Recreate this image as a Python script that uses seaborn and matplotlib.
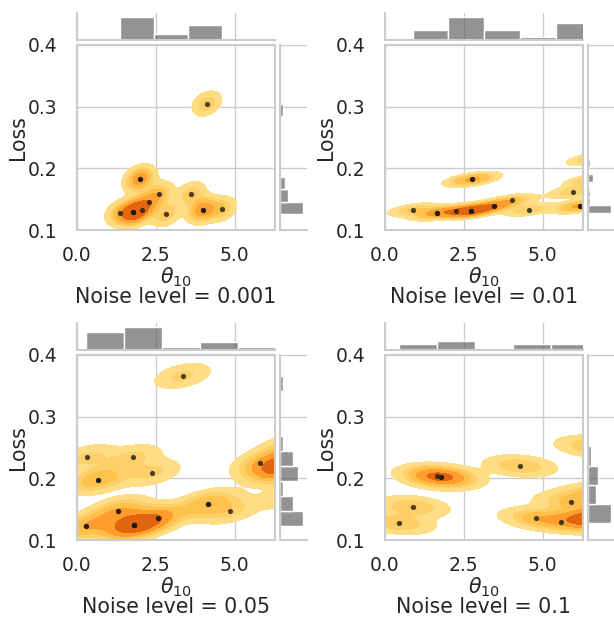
import numpy as np
import pandas as pd
import seaborn as sns
import matplotlib
matplotlib.use("Agg")
from matplotlib import pyplot as plt
from matplotlib.colors import LinearSegmentedColormap

# theta_10 vs loss, one set of runs per noise level (repeated values = runs that landed on the same spot)
theta_001 = [1.36, 1.79, 1.79, 1.79, 2.07, 2.28, 1.99, 1.99, 2.61, 2.82, 3.62, 3.99, 3.99, 4.60, 4.12]
loss_001 = [0.128, 0.129, 0.129, 0.129, 0.133, 0.146, 0.183, 0.183, 0.159, 0.126, 0.158, 0.133, 0.133, 0.134, 0.305]

theta_01 = [0.88, 1.64, 1.64, 2.26, 2.73, 2.73, 2.73, 2.73, 2.77, 2.77,
            3.46, 3.46, 4.04, 4.57, 5.97, 6.18, 6.18, 6.45, 6.55]
loss_01 = [0.133, 0.128, 0.128, 0.131, 0.131, 0.131, 0.131, 0.131, 0.182, 0.182,
           0.139, 0.139, 0.148, 0.133, 0.162, 0.139, 0.139, 0.180, 0.215]

theta_05 = [0.30, 0.30, 0.33, 0.66, 0.66, 1.31, 1.31,
            1.82, 1.82, 1.82, 1.82, 1.82, 1.77, 2.39, 2.56, 2.56,
            3.35, 4.15, 4.15, 4.85, 5.81,
            6.75, 6.45, 6.45, 6.45, 7.50, 6.40, 6.40, 6.60]
loss_05 = [0.122, 0.122, 0.234, 0.198, 0.198, 0.147, 0.147,
           0.124, 0.124, 0.124, 0.124, 0.124, 0.234, 0.209, 0.136, 0.136,
           0.366, 0.159, 0.159, 0.147, 0.225,
           0.172, 0.215, 0.215, 0.215, 0.210, 0.225, 0.225, 0.250]

theta_1 = [0.43, 0.88, 1.66, 1.79, 1.79, 4.29, 4.78, 5.59, 5.90,
           6.55, 6.60, 6.60, 6.90, 6.90, 7.20, 6.70, 7.69]
loss_1 = [0.127, 0.154, 0.204, 0.202, 0.202, 0.220, 0.136, 0.129, 0.161,
          0.252, 0.131, 0.131, 0.135, 0.135, 0.175, 0.170, 0.130]

noise_levels = ["0.001", "0.01", "0.05", "0.1"]
theta_sets = [theta_001, theta_01, theta_05, theta_1]
loss_sets = [loss_001, loss_01, loss_05, loss_1]
x_bins = [3, 5, 6, 6]
y_bins = [9, 7, 10, 4]

sns.set_theme(style="whitegrid")
plt.rcParams['font.family'] = ['DejaVu Sans']

# YlOrBr without its near-white end, the outer band is a clear pale orange
kde_cmap = LinearSegmentedColormap.from_list(
    "ylorbr_cut", plt.get_cmap("YlOrBr")(np.linspace(0.25, 0.78, 256)))

W, H = 614, 619
fig = plt.figure(figsize=(W / 100, H / 100), dpi=100)


def px_axes(left, top, width, height):
    return fig.add_axes([left / W, 1 - (top + height) / H, width / W, height / H])


origins = [(77, 45), (385, 45), (77, 355), (385, 355)]
bar_color = "#5a5a5a"

for (x0, y0), th, ls, lvl, nbx, nby in zip(origins, theta_sets, loss_sets, noise_levels, x_bins, y_bins):
    df = pd.DataFrame({"theta": th, "loss": ls})

    ax = px_axes(x0, y0, 198, 185)
    ax_top = px_axes(x0, y0 - 32, 198, 27)
    ax_right = px_axes(x0 + 203, y0, 27, 185)

    sns.kdeplot(data=df, x="theta", y="loss", fill=True, cmap=kde_cmap,
                levels=6, thresh=0.07, bw_adjust=0.42, gridsize=100, ax=ax)
    sns.scatterplot(data=df, x="theta", y="loss", color="#1a1a1a", alpha=0.8,
                    s=14, linewidth=0, ax=ax)
    ax.set_xlim(0, 2 * np.pi)
    ax.set_ylim(0.1, 0.4)
    ax.set_xticks([0, 2.5, 5.0])
    ax.set_yticks([0.1, 0.2, 0.3, 0.4])
    ax.tick_params(axis="x", labelsize=13.5, pad=5.5)
    ax.tick_params(axis="y", labelsize=13.5, pad=8)
    ax.set_xlabel(r"$\theta_{10}$", fontsize=14.8, labelpad=0)
    ax.set_ylabel("Loss", fontsize=14.8, labelpad=0)
    for sp in ax.spines.values():
        sp.set_color("#cccccc")
        sp.set_linewidth(1.5)

    # marginal histograms
    sns.histplot(data=df, x="theta", bins=nbx, color=bar_color, alpha=0.65,
                 edgecolor="white", linewidth=1, ax=ax_top)
    ax_top.set_xlim(0, 2 * np.pi)
    ax_top.set_ylim(0, ax_top.get_ylim()[1] * 1.1)
    ax_top.set_xticks([0, 2.5, 5.0])
    ax_top.yaxis.grid(False)
    ax_top.set_xticklabels([])
    ax_top.set_yticks([])
    ax_top.set_xlabel("")
    ax_top.set_ylabel("")

    sns.histplot(data=df, y="loss", bins=nby, color=bar_color, alpha=0.65,
                 edgecolor="white", linewidth=1, ax=ax_right)
    ax_right.set_ylim(0.1, 0.4)
    ax_right.set_xlim(0, ax_right.get_xlim()[1] * 1.1)
    ax_right.set_yticks([0.1, 0.2, 0.3, 0.4])
    ax_right.xaxis.grid(False)
    ax_right.set_yticklabels([])
    ax_right.set_xticks([])
    ax_right.set_xlabel("")
    ax_right.set_ylabel("")

    for m in (ax_top, ax_right):
        sns.despine(ax=m)
        for sp in m.spines.values():
            sp.set_color("#cccccc")
            sp.set_linewidth(1.5)

    fig.text((x0 + 99) / W, 1 - (y0 + 258) / H, "Noise level = " + lvl,
             ha="center", va="baseline", fontsize=14.8, color="#262626")

fig.savefig("out.png", dpi=100)
